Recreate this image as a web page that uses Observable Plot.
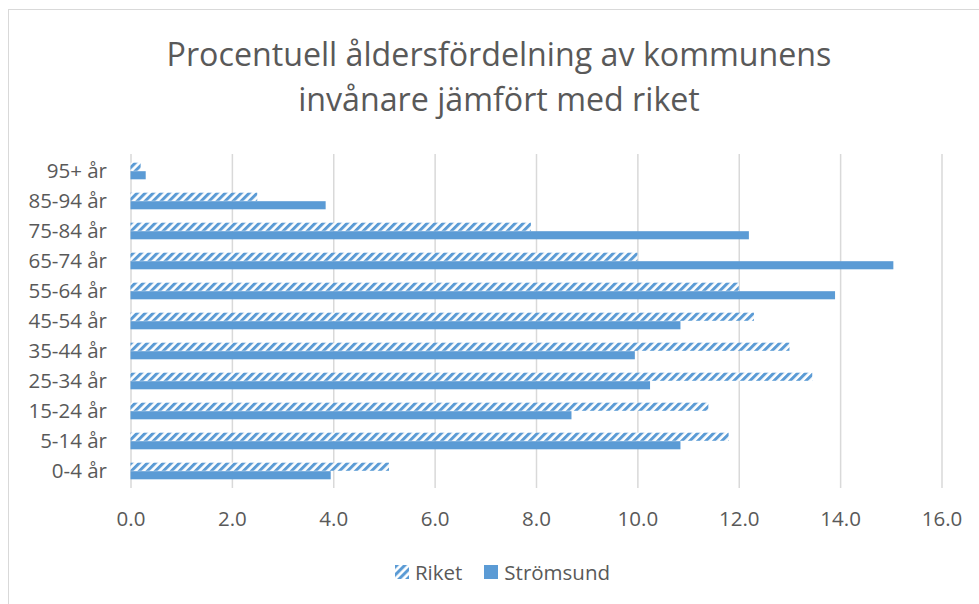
<!DOCTYPE html>
<html>
<head>
<meta charset="utf-8">
<script src="https://cdn.jsdelivr.net/npm/d3@7"></script>
<script src="https://cdn.jsdelivr.net/npm/@observablehq/plot@0.6"></script>
<style>
  html, body { margin: 0; padding: 0; background: #fff; overflow: hidden; width: 979px; height: 604px; }
  #wrap { position: relative; width: 979px; height: 604px; font-family: "Open Sans", sans-serif; color: #595959; }
  #frame { position: absolute; left: 8px; top: 9px; width: 1200px; height: 1000px; border: 1px solid #d9d9d9; }
  #title { position: absolute; left: 0; width: 998px; top: 31px; text-align: center; font-size: 32.2px; line-height: 45px; color: #595959; }
  #chart { position: absolute; left: 0; top: 0; }
  #legend { position: absolute; top: 558px; left: 13px; width: 979px; display: flex; justify-content: center; gap: 0; font-size: 20.5px; color: #595959; }
  .item { display: flex; align-items: center; margin: 0 11px; }
  .sw { width: 14px; height: 14px; margin-right: 6px; }
</style>
</head>
<body>
<div id="wrap">
  <div id="frame"></div>
  <div id="chart"></div>
  <div id="title">Procentuell åldersfördelning av kommunens<br>invånare jämfört med riket</div>
  <div id="legend">
    <div class="item"><svg class="sw" width="14" height="14"><rect width="14" height="14" fill="url(#hatchL)"/></svg>Riket</div>
    <div class="item"><svg class="sw" width="14" height="14"><rect width="14" height="14" fill="#5b9bd5"/></svg>Strömsund</div>
  </div>
</div>
<script>
const ages = ["95+ år", "85-94 år", "75-84 år", "65-74 år", "55-64 år", "45-54 år", "35-44 år", "25-34 år", "15-24 år", "5-14 år", "0-4 år"];
const riket = [0.2, 2.5, 7.9, 10.0, 12.0, 12.3, 13.0, 13.45, 11.4, 11.8, 5.1];
const stromsund = [0.3, 3.85, 12.2, 15.05, 13.9, 10.85, 9.95, 10.25, 8.7, 10.85, 3.95];
const xTicks = [0, 2, 4, 6, 8, 10, 12, 14, 16];
const seriesNames = ["Riket", "Strömsund"];

const blue = "#5b9bd5";
const rows = ages.map((a, i) => ({age: a, riket: riket[i], strom: stromsund[i]}));

const chart = Plot.plot({
  width: 979,
  height: 604,
  marginLeft: 130.5,
  marginRight: 37.5,
  marginTop: 154,
  marginBottom: 116,
  style: {fontFamily: "'Open Sans', sans-serif", fontSize: "20.5px", color: "#595959", background: "transparent"},
  x: {domain: [0, 16], ticks: xTicks, tickFormat: d => d.toFixed(1), label: null},
  y: {domain: ages, padding: 0, label: null},
  marks: [
    Plot.ruleX(xTicks, {stroke: "#d9d9d9", strokeWidth: 1.5, strokeOpacity: 1}),
    Plot.barX(rows, {x: "riket", y: "age", fill: "url(#hatch)", insetTop: 6.7, insetBottom: 15.2}),
    Plot.barX(rows, {x: "strom", y: "age", fill: blue, insetTop: 15.2, insetBottom: 6.7}),
    Plot.axisX({ticks: xTicks, tickFormat: d => d.toFixed(1), tickSize: 0, tickPadding: 23, fill: "#595959", fontSize: 20.5}),
    Plot.axisY({tickSize: 0, tickPadding: 24, fill: "#595959", fontSize: 20.5})
  ]
});

const ns = "http://www.w3.org/2000/svg";
function addPattern(svg, id) {
  let defs = svg.querySelector("defs");
  if (!defs) { defs = document.createElementNS(ns, "defs"); svg.insertBefore(defs, svg.firstChild); }
  const p = document.createElementNS(ns, "pattern");
  p.setAttribute("id", id);
  p.setAttribute("patternUnits", "userSpaceOnUse");
  p.setAttribute("width", "5.66");
  p.setAttribute("height", "5.66");
  p.setAttribute("patternTransform", "rotate(45)");
  const bg = document.createElementNS(ns, "rect");
  bg.setAttribute("width", "5.66"); bg.setAttribute("height", "5.66"); bg.setAttribute("fill", "#ffffff");
  const r = document.createElementNS(ns, "rect");
  r.setAttribute("width", "3"); r.setAttribute("height", "5.66"); r.setAttribute("fill", blue);
  p.appendChild(bg); p.appendChild(r);
  defs.appendChild(p);
}
addPattern(chart, "hatch");
document.getElementById("chart").appendChild(chart);
addPattern(document.querySelector("#legend svg"), "hatchL");
</script>
</body>
</html>
